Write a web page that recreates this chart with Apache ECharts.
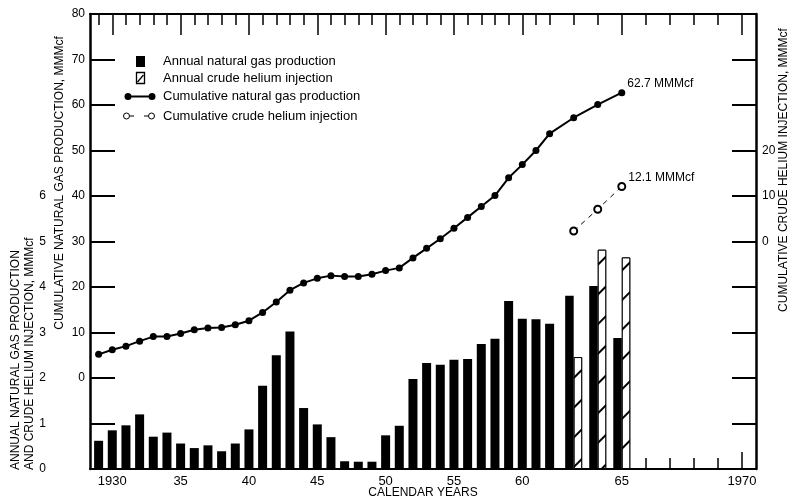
<!DOCTYPE html>
<html><head><meta charset="utf-8">
<script src="https://cdn.jsdelivr.net/npm/echarts@6/dist/echarts.min.js"></script>
<style>html,body{margin:0;padding:0;background:#fff}#c{width:791px;height:501px}</style>
</head><body><div id="c"></div>
<script>
// ---- data ----
const years = [1929,1930,1931,1932,1933,1934,1935,1936,1937,1938,1939,1940,1941,1942,1943,1944,1945,1946,1947,1948,1949,1950,1951,1952,1953,1954,1955,1956,1957,1958,1959,1960,1961,1962,1963,1964,1965];
const annualGas = [0.62,0.85,0.96,1.20,0.71,0.80,0.56,0.46,0.52,0.39,0.56,0.87,1.83,2.50,3.02,1.34,0.98,0.70,0.17,0.16,0.16,0.74,0.95,1.98,2.33,2.29,2.40,2.42,2.75,2.86,3.69,3.30,3.29,3.19,3.81,4.02,2.88];
const cumGas = [5.2,6.2,7.0,8.1,9.1,9.1,9.8,10.6,11.0,11.1,11.7,12.6,14.4,16.7,19.3,20.9,21.9,22.5,22.3,22.3,22.8,23.6,24.2,26.4,28.5,30.6,32.9,35.3,37.7,40.1,44.0,46.9,50.0,53.7,57.2,60.1,62.7];
const heliumYears = [1963,1964,1965];
const annualHelium = [2.46,4.82,4.65];
const cumHelium = [2.3,7.1,12.1];
const xLabelYears = [1930,1935,1940,1945,1950,1955,1960,1965,1970];
const xLabelText = ['1930','35','40','45','50','55','60','65','1970'];
const cumGasLabels = [0,10,20,30,40,50,60,70,80];
const annualLabels = [0,1,2,3,4,5,6];
const heliumLabels = [0,10,20];
const allTickYears = [];
for (let y = 1929; y <= 1970; y++) allTickYears.push(y);
const fiveYearTicks = [1930,1935,1940,1945,1950,1955,1960,1965,1970];
const bottomShortTicks = [1966,1967,1968,1969];
const bottomLongTicks = [1970];

// ---- x scale: years after BREAK_YEAR are drawn wider ----
const BREAK_YEAR = 1962, STRETCH = 1.76;
function xPos(y){ return y <= BREAK_YEAR ? y : BREAK_YEAR + (y - BREAK_YEAR) * STRETCH; }
const X_MIN = 1928.37, X_MAX = xPos(1970) + 1.02;

const FONT = 'Liberation Sans, Arial, Helvetica, sans-serif';
const BLACK = '#000';

const singleBars = [], pairDark = [], pairHatch = [];
years.forEach((y,i)=>{
  if (y <= BREAK_YEAR) singleBars.push([xPos(y), annualGas[i]]);
  else pairDark.push([xPos(y), annualGas[i]]);
});
heliumYears.forEach((y,i)=>pairHatch.push([xPos(y), annualHelium[i]]));
const cumGasData = years.map((y,i)=>[xPos(y), cumGas[i]]);
const cumHeData = heliumYears.map((y,i)=>[xPos(y), cumHelium[i]]);

function baseX(extra){
  return Object.assign({
    type:'value', min:X_MIN, max:X_MAX, gridIndex:0,
    splitLine:{show:false}, axisLabel:{show:false}, axisTick:{show:false},
    axisLine:{show:false, onZero:false}
  }, extra);
}

const chart = echarts.init(document.getElementById('c'), null, {renderer:'canvas'});
chart.setOption({
  animation:false,
  backgroundColor:'#fff',
  textStyle:{fontFamily:FONT, color:BLACK},
  grid:{left:90, right:35, top:14, bottom:32, containLabel:false, outerBoundsMode:'none'},
  xAxis:[
    baseX({position:'bottom',
      axisLine:{show:true, onZero:false, lineStyle:{color:BLACK, width:2}},
      axisLabel:{show:true, customValues:xLabelYears.map(xPos), margin:6, fontSize:13, color:BLACK, fontFamily:FONT,
        formatter:function(v){ for (let i=0;i<xLabelYears.length;i++){ if (Math.abs(xPos(xLabelYears[i])-v)<1e-6) return xLabelText[i]; } return ''; }},
      axisTick:{show:true, inside:true, length:11, customValues:bottomShortTicks.map(xPos), lineStyle:{color:BLACK, width:1.5}}
    }),
    baseX({position:'top',
      axisLine:{show:true, onZero:false, lineStyle:{color:BLACK, width:2}},
      axisTick:{show:true, inside:true, length:11, customValues:allTickYears.map(xPos), lineStyle:{color:BLACK, width:1.5}}
    }),
    baseX({position:'top',
      axisTick:{show:true, inside:true, length:21, customValues:fiveYearTicks.map(xPos), lineStyle:{color:BLACK, width:1.5}}
    }),
    baseX({position:'bottom',
      axisTick:{show:true, inside:true, length:17, customValues:bottomLongTicks.map(xPos), lineStyle:{color:BLACK, width:1.5}}
    })
  ],
  yAxis:[
    {type:'value', position:'left', min:-20, max:80, interval:10,
      splitLine:{show:false},
      axisLine:{show:true, onZero:false, lineStyle:{color:BLACK, width:2.5}},
      axisTick:{show:true, inside:true, length:25, lineStyle:{color:BLACK, width:2}},
      axisLabel:{margin:5, fontSize:12, color:BLACK, fontFamily:FONT,
        formatter:function(v){ return cumGasLabels.indexOf(v) >= 0 ? String(v) : ''; }}
    },
    {type:'value', position:'left', min:0, max:10, interval:1,
      splitLine:{show:false}, axisLine:{show:false, onZero:false}, axisTick:{show:false},
      axisLabel:{margin:44, fontSize:12, color:BLACK, fontFamily:FONT,
        formatter:function(v){ return annualLabels.indexOf(v) >= 0 ? String(v) : ''; }}
    },
    {type:'value', position:'right', min:-50, max:50, interval:10,
      splitLine:{show:false},
      axisLine:{show:true, onZero:false, lineStyle:{color:BLACK, width:2.5}},
      axisTick:{show:true, inside:true, length:24, lineStyle:{color:BLACK, width:2}},
      axisLabel:{margin:6, fontSize:12, color:BLACK, fontFamily:FONT,
        formatter:function(v){ return heliumLabels.indexOf(v) >= 0 ? String(v) : ''; }}
    }
  ],
  series:[
    {name:'Annual natural gas production', type:'bar', xAxisIndex:0, yAxisIndex:1,
      barWidth:9, data:singleBars, itemStyle:{color:BLACK}},
    {name:'Annual natural gas production (paired)', type:'bar', xAxisIndex:2, yAxisIndex:1,
      barWidth:8.5, barGap:'0%', data:pairDark, itemStyle:{color:BLACK}},
    {name:'Annual crude helium injection', type:'bar', xAxisIndex:2, yAxisIndex:1,
      barWidth:8.5, barGap:'0%', data:pairHatch,
      itemStyle:{color:'#fff', borderColor:BLACK, borderWidth:1,
        decal:{symbol:'rect', symbolSize:1, color:BLACK, backgroundColor:'#fff',
          dashArrayX:[1,0], dashArrayY:[1.3,18.7], rotation:-Math.PI/4}}},
    {name:'Cumulative natural gas production', type:'line', xAxisIndex:0, yAxisIndex:0,
      data:cumGasData, symbol:'circle', symbolSize:7, showAllSymbol:true,
      itemStyle:{color:BLACK}, lineStyle:{color:BLACK, width:2},
      label:{show:true, position:'right', distance:2, offset:[0,-9], fontSize:12, color:BLACK, fontFamily:FONT,
        formatter:function(p){ return p.dataIndex === cumGasData.length-1 ? cumGas[cumGas.length-1].toFixed(1)+' MMMcf' : ''; }}
    },
    {name:'Cumulative crude helium injection', type:'line', xAxisIndex:0, yAxisIndex:2,
      data:cumHeData, symbol:'emptyCircle', symbolSize:7, showAllSymbol:true,
      itemStyle:{color:BLACK, borderColor:BLACK, borderWidth:1},
      lineStyle:{color:BLACK, width:1, type:[5,5]},
      label:{show:true, position:'right', distance:2, offset:[0,-9], fontSize:12, color:BLACK, fontFamily:FONT,
        formatter:function(p){ return p.dataIndex === cumHeData.length-1 ? cumHelium[cumHelium.length-1].toFixed(1)+' MMMcf' : ''; }}
    }
  ],
  graphic:[
    // legend
    {type:'rect', shape:{x:136, y:56, width:9, height:11}, style:{fill:BLACK}},
    {type:'text', x:163, y:61.5, style:{text:'Annual natural gas production', fontSize:13, fontFamily:FONT, fill:BLACK, align:'left', verticalAlign:'middle'}},
    {type:'rect', shape:{x:136.5, y:72.5, width:8, height:11}, style:{fill:'#fff', stroke:BLACK, lineWidth:1.3}},
    {type:'line', shape:{x1:137.5, y1:82, x2:143.5, y2:75}, style:{stroke:BLACK, lineWidth:1.3}},
    {type:'text', x:163, y:78, style:{text:'Annual crude helium injection', fontSize:13, fontFamily:FONT, fill:BLACK, align:'left', verticalAlign:'middle'}},
    {type:'line', shape:{x1:128, y1:96.5, x2:152, y2:96.5}, style:{stroke:BLACK, lineWidth:2}},
    {type:'circle', shape:{cx:128, cy:96.5, r:3.5}, style:{fill:BLACK}},
    {type:'circle', shape:{cx:152, cy:96.5, r:3.5}, style:{fill:BLACK}},
    {type:'text', x:163, y:96.5, style:{text:'Cumulative natural gas production', fontSize:13, fontFamily:FONT, fill:BLACK, align:'left', verticalAlign:'middle'}},
    {type:'line', shape:{x1:129.5, y1:116, x2:134, y2:116}, style:{stroke:BLACK, lineWidth:1}},
    {type:'line', shape:{x1:144, y1:116, x2:148.5, y2:116}, style:{stroke:BLACK, lineWidth:1}},
    {type:'circle', shape:{cx:126.5, cy:116, r:3}, style:{fill:'#fff', stroke:BLACK, lineWidth:1}},
    {type:'circle', shape:{cx:151.5, cy:116, r:3}, style:{fill:'#fff', stroke:BLACK, lineWidth:1}},
    {type:'text', x:163, y:116, style:{text:'Cumulative crude helium injection', fontSize:13, fontFamily:FONT, fill:BLACK, align:'left', verticalAlign:'middle'}},
    // axis titles
    {type:'text', x:423, y:493, style:{text:'CALENDAR YEARS', fontSize:12, fontFamily:FONT, fill:BLACK, align:'center', verticalAlign:'middle'}},
    {type:'text', x:60, y:183, rotation:Math.PI/2, style:{text:'CUMULATIVE NATURAL GAS PRODUCTION, MMMcf', fontSize:12, fontFamily:FONT, fill:BLACK, align:'center', verticalAlign:'middle'}},
    {type:'text', x:23, y:470, rotation:Math.PI/2, style:{text:'ANNUAL NATURAL GAS PRODUCTION\nAND CRUDE HELIUM INJECTION, MMMcf', fontSize:12, lineHeight:14, fontFamily:FONT, fill:BLACK, align:'left', verticalAlign:'middle'}},
    {type:'text', x:784, y:170, rotation:Math.PI/2, style:{text:'CUMULATIVE CRUDE HELIUM INJECTION, MMMcf', fontSize:12, fontFamily:FONT, fill:BLACK, align:'center', verticalAlign:'middle'}}
  ]
});
</script></body></html>
